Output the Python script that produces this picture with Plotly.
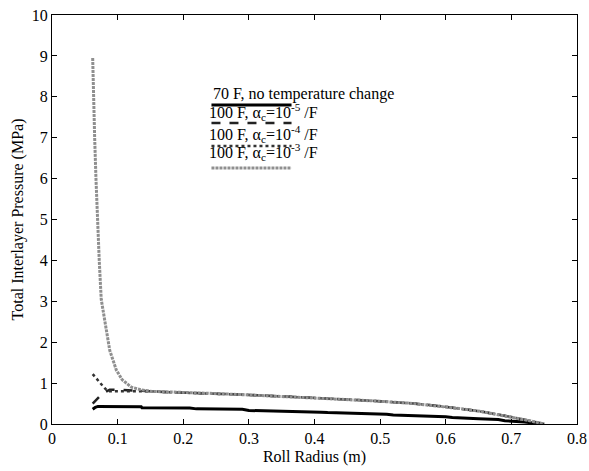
import plotly.graph_objects as go

# ---- data ----
x_70F = [0.062, 0.066, 0.070, 0.10, 0.136, 0.137, 0.21, 0.22, 0.29, 0.30, 0.35, 0.36,
         0.41, 0.42, 0.46, 0.47, 0.51, 0.52, 0.55, 0.56, 0.60, 0.61, 0.64, 0.65, 0.68, 0.69, 0.72, 0.745]
y_70F = [0.36, 0.41, 0.43, 0.43, 0.42, 0.40, 0.39, 0.37, 0.36, 0.33, 0.32, 0.30,
         0.29, 0.28, 0.27, 0.25, 0.24, 0.22, 0.21, 0.19, 0.18, 0.16, 0.15, 0.13, 0.11, 0.08, 0.05, 0.0]

x_tail = [0.149, 0.19, 0.24, 0.286, 0.33, 0.377, 0.423, 0.484, 0.545, 0.59, 0.62, 0.652, 0.697, 0.725, 0.75]
y_tail = [0.80, 0.77, 0.75, 0.72, 0.69, 0.66, 0.62, 0.57, 0.51, 0.44, 0.38, 0.31, 0.18, 0.09, 0.0]

x_a5 = [0.062, 0.068, 0.074, 0.080, 0.088, 0.100, 0.120] + x_tail
y_a5 = [0.50, 0.60, 0.70, 0.77, 0.84, 0.84, 0.82] + y_tail

x_a4 = [0.062, 0.068, 0.074, 0.080, 0.085, 0.100, 0.120] + x_tail
y_a4 = [1.22, 1.10, 0.98, 0.88, 0.80, 0.80, 0.81] + y_tail

x_a3 = [0.062, 0.063, 0.065, 0.067, 0.069, 0.072, 0.075, 0.080, 0.088, 0.098, 0.107, 0.121, 0.135] + x_tail
y_a3 = [8.95, 8.0, 7.0, 6.0, 5.0, 4.0, 3.05, 2.55, 1.80, 1.32, 1.08, 0.90, 0.84] + y_tail

legend_labels = ["70 F, no temperature change",
                 "100 F, α<sub>c</sub>=10<sup>-5</sup> /F",
                 "100 F, α<sub>c</sub>=10<sup>-4</sup> /F",
                 "100 F, α<sub>c</sub>=10<sup>-3</sup> /F"]

x_ticks = [0, 0.1, 0.2, 0.3, 0.4, 0.5, 0.6, 0.7, 0.8]
x_tick_text = ["0", "0.1", "0.2", "0.3", "0.4", "0.5", "0.6", "0.7", "0.8"]
y_ticks = list(range(0, 11))

FONT = "Liberation Serif, Times New Roman, serif"

styles = [
    dict(color="black", width=3, dash="solid"),
    dict(color="#222222", width=2.5, dash="dash"),
    dict(color="#333333", width=2.5, dash="dot"),
    dict(color="#8f8f8f", width=3, dash="3px,1px"),
]

fig = go.Figure()
series = [(x_70F, y_70F), (x_a5, y_a5), (x_a4, y_a4), (x_a3, y_a3)]
for i in [0, 1, 2, 3]:
    xs, ys = series[i]
    fig.add_trace(go.Scatter(x=xs, y=ys, mode="lines", line=styles[i],
                             name=legend_labels[i], showlegend=False))

# MATLAB-style legend: text with line sample underneath
text_y = [8.06, 7.62, 7.10, 6.66]
line_y = [7.80, 7.36, 6.80, 6.26]
for lbl, ty, ly, st in zip(legend_labels, text_y, line_y, styles):
    prefix = " " if lbl.startswith("70") else ""
    fig.add_annotation(x=0.236, y=ty, xref="x", yref="y", text=prefix + lbl,
                       showarrow=False, xanchor="left", yanchor="middle",
                       font=dict(family=FONT, size=16, color="black"))
    fig.add_shape(type="line", x0=0.243, x1=0.365, y0=ly, y1=ly, xref="x", yref="y",
                  line=st)

axis_common = dict(showline=True, linecolor="black", linewidth=1, mirror="ticks",
                   ticks="inside", ticklen=5, tickcolor="black", showgrid=False,
                   zeroline=False, automargin=False, ticklabeloverflow="allow",
                   tickfont=dict(family=FONT, size=16, color="black"))

fig.update_xaxes(range=[0, 0.8], tickvals=x_ticks, ticktext=x_tick_text,
                 title=dict(text="Roll Radius (m)", font=dict(family=FONT, size=16, color="black"),
                            standoff=4),
                 **axis_common)
fig.update_yaxes(range=[0, 10], tickvals=y_ticks,
                 title=dict(text="Total Interlayer Pressure (MPa)",
                            font=dict(family=FONT, size=16, color="black"), standoff=4),
                 **axis_common)

fig.update_layout(width=589, height=471, plot_bgcolor="white", paper_bgcolor="white",
                  margin=dict(l=52, r=12, t=15, b=47), showlegend=False,
                  font=dict(family=FONT, size=16, color="black"))

fig.write_html("out.html", config={"displayModeBar": False},
               post_script="document.body.style.margin='0';document.body.style.overflow='hidden';")
